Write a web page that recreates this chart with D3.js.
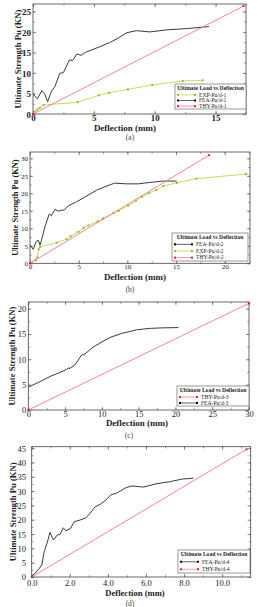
<!DOCTYPE html>
<html><head><meta charset="utf-8">
<script src="https://cdn.jsdelivr.net/npm/d3@7"></script>
<style>
html,body{margin:0;padding:0;background:#fff;}
svg{display:block;}
text{font-family:"Liberation Serif","Times New Roman",serif;}
</style></head>
<body>
<script>
// ---------- DATA ----------
// Panel (a)
const fea1 = [[0,4.9],[0.35,3.7],[0.74,5.7],[0.95,5.0],[1.2,3.0],[1.5,5.4],[1.8,6.7],[2.2,9.9],[2.5,10.1],[3.0,13.2],[3.25,13.0],[3.6,14.6],[3.96,14.3],[4.3,15.0],[4.8,15.6],[5.5,16.4],[6.3,17.4],[7.0,18.5],[7.7,19.8],[8.5,20.3],[9.6,20.0],[11.0,20.5],[12.6,20.8],[14.45,21.3]];
const exp1 = [[0,0],[0.15,0.6],[0.35,1.1],[0.55,1.5],[0.87,2.2],[3.66,2.85],[5.4,4.55],[6.25,5.2],[7.8,6.0],[9.8,7.07],[12.3,8.05],[13.95,8.2]];
const thy1 = [[0,0],[17.3,26.3]];
// Panel (b)
const fea2 = [[0,5.2],[0.34,4.0],[0.62,6.2],[0.86,6.6],[1.03,5.2],[1.16,6.4],[1.54,10.5],[1.98,14.1],[2.2,13.6],[2.57,15.4],[2.9,14.9],[3.25,15.2],[3.5,15.2],[3.93,16.4],[4.8,17.6],[5.8,19.2],[6.85,20.9],[7.9,22.1],[8.7,22.9],[9.9,22.7],[11.1,22.7],[12.3,23.1],[13.7,23.5],[15.07,23.5]];
const exp2 = [[0,0],[0.58,0.94],[0.75,1.7],[0.89,4.0],[1.03,4.7],[2.74,5.9],[3.77,6.9],[4.18,7.7],[4.97,9.0],[5.5,10.1],[6.0,10.8],[6.95,12.0],[7.5,12.8],[8.56,14.3],[9.1,15.0],[10.1,16.5],[10.9,17.9],[11.5,19.0],[12.2,20.0],[12.95,20.9],[13.7,22.1],[15.1,23.0],[17.1,24.2],[22.2,25.5]];
const thy2 = [[0,0],[18.4,30.9]];
// Panel (c)
const thy3 = [[0,0],[30,21.05]];
const fea3 = [[0,4.5],[1.6,5.6],[2.95,6.6],[4.3,7.4],[5.2,8.0],[5.4,8.3],[5.67,8.2],[6.35,8.9],[7.25,10.85],[7.7,11.05],[8.8,12.4],[9.74,13.2],[11.1,14.3],[12.7,15.1],[14.7,15.8],[16.5,16.1],[18.3,16.2],[20.4,16.25]];
// Panel (d)
const fea4 = [[0,0],[0.4,3.0],[0.53,4.2],[0.66,8.9],[0.82,12.1],[0.96,15.6],[1.14,12.9],[1.35,14.7],[1.49,14.9],[1.66,17.2],[1.8,16.1],[2.05,17.0],[2.23,19.3],[2.54,19.9],[2.86,20.7],[3.07,22.3],[3.33,24.5],[3.6,25.4],[3.9,26.9],[4.16,28.7],[4.47,29.3],[4.96,31.2],[5.26,31.8],[5.87,31.4],[6.58,32.6],[7.28,33.3],[7.9,34.2],[8.5,34.5]];
const thy4 = [[0,0],[11.28,44.6]];

const xTicks1 = [0,5,10,15], yTicks1 = [0,5,10,15,20,25];
const xTicks2 = [0,5,10,15,20], yTicks2 = [0,5,10,15,20,25,30];
const xTicks3 = [0,5,10,15,20,25,30], yTicks3 = [0,5,10,15,20];
const xTicks4 = [0,2,4,6,8,10], yTicks4 = [0,5,10,15,20,25,30,35,40,45];
const legendTitle = "Ultimate Load vs Deflection";
const yLabel = "Ultimate Strength Pu (KN)";
const xLabel = "Deflection (mm)";
const captions = ["(a)","(b)","(c)","(d)"];

// ---------- STYLE ----------
const C = {fea:"#3a3a3a", exp:"#c2d64a", expM:"#9fb52a", thy:"#f27a80", thyM:"#e0202a"};

const svg = d3.select("body").append("svg").attr("width",271).attr("height",607);

const iF = d3.format("d"), fF = d3.format(".1f");
const panels = [
 {L:33,R:246,T:4,B:114, xd:[0,17.5], yd:[0,26.8], xt:xTicks1, yt:yTicks1, xm:2.5, ym:2.5, xf:iF, yf:iF, tickFs:9, tickW:"bold", xpad:1, ypad:2,
  series:[{d:exp1,c:C.exp,m:C.expM,name:"EXP-Pu/d-1",marks:true},{d:fea1,c:C.fea,m:"#000",name:"FEA-Pu/d-1"},{d:thy1,c:C.thy,m:C.thyM,name:"THY-Pu/d-1",marks:true}],
  leg:{x:175,y:84,w:71,h:25}, xl:{x:125,y:130.5,fs:9}, yl:{x:21,fs:8.6}, cap:{x:130,y:140}},
 {L:30,R:250,T:152,B:263.3, xd:[0,22.6], yd:[0,31.8], xt:xTicks2, yt:yTicks2, xm:2.5, ym:2.5, xf:iF, yf:iF, tickFs:7, tickW:"normal", xpad:1, ypad:2,
  series:[{d:fea2,c:C.fea,m:"#000",name:"FEA-Pu/d-2"},{d:exp2,c:C.exp,m:C.expM,name:"EXP-Pu/d-2",marks:true},{d:thy2,c:C.thy,m:C.thyM,name:"THY-Pu/d-2",marks:true}],
  leg:{x:172,y:233,w:76,h:28}, xl:{x:135,y:280,fs:9}, yl:{x:18,fs:8.4}, cap:{x:130,y:292}},
 {L:28.3,R:249,T:302,B:410, xd:[0,30], yd:[0,21.3], xt:xTicks3, yt:yTicks3, xm:2.5, ym:2.5, xf:iF, yf:iF, tickFs:8.5, tickW:"normal", xpad:1, ypad:2,
  series:[{d:thy3,c:C.thy,m:C.thyM,name:"THY-Pu/d-3",marks:true},{d:fea3,c:C.fea,m:"#000",name:"FEA-Pu/d-3"}],
  leg:{x:177,y:386,w:72,h:20}, xl:{x:137,y:426,fs:9}, yl:{x:15,fs:8.6}, cap:{x:129,y:438}},
 {L:31.7,R:250.7,T:446.7,B:577, xd:[0,11.5], yd:[0,45.5], xt:xTicks4, yt:yTicks4, xm:1, ym:2.5, xf:fF, yf:iF, tickFs:8.5, tickW:"normal", xpad:3, ypad:5.8,
  series:[{d:fea4,c:C.fea,m:"#000",name:"FEA-Pu/d-4"},{d:thy4,c:C.thy,m:C.thyM,name:"THY-Pu/d-4",marks:true}],
  leg:{x:178,y:550,w:72,h:23}, xl:{x:135,y:596,fs:8.6}, yl:{x:16,fs:8.6}, cap:{x:130,y:606}}
];

function range(a,b,s){const r=[];for(let v=a;v<=b+1e-9;v+=s)r.push(+v.toFixed(6));return r;}

panels.forEach((p,i)=>{
  const x = d3.scaleLinear().domain(p.xd).range([p.L,p.R]);
  const y = d3.scaleLinear().domain(p.yd).range([p.B,p.T]);
  const g = svg.append("g");
  const xMinor = range(p.xd[0],p.xd[1],p.xm), yMinor = range(p.yd[0],p.yd[1],p.ym);
  const H = p.B-p.T, W = p.R-p.L;
  const ax = (axis, tr) => {
    const a = g.append("g").attr("transform",tr).call(axis);
    a.select(".domain").remove();
    a.selectAll("line").attr("stroke","#555").attr("stroke-width",0.6);
    return a;
  };
  ax(d3.axisBottom(x).tickValues(xMinor).tickSize(-1.8).tickFormat(""),`translate(0,${p.B})`);
  ax(d3.axisTop(x).tickValues(xMinor).tickSize(-1.8).tickFormat(""),`translate(0,${p.T})`);
  ax(d3.axisLeft(y).tickValues(yMinor).tickSize(-1.8).tickFormat(""),`translate(${p.L},0)`);
  ax(d3.axisRight(y).tickValues(yMinor).tickSize(-1.8).tickFormat(""),`translate(${p.R},0)`);
  const bx = ax(d3.axisBottom(x).tickValues(p.xt).tickSize(-3.2).tickPadding(p.xpad).tickFormat(p.xf),`translate(0,${p.B})`);
  const ly = ax(d3.axisLeft(y).tickValues(p.yt).tickSize(-3.2).tickPadding(p.ypad).tickFormat(p.yf),`translate(${p.L},0)`);
  ax(d3.axisTop(x).tickValues(p.xt).tickSize(-3.2).tickFormat(""),`translate(0,${p.T})`);
  ax(d3.axisRight(y).tickValues(p.yt).tickSize(-3.2).tickFormat(""),`translate(${p.R},0)`);
  [bx,ly].forEach(a=>a.selectAll("text").attr("font-family","Liberation Serif").attr("font-size",p.tickFs).attr("font-weight",p.tickW).attr("fill","#222"));
  ly.selectAll("text").attr("dy","0.35em");
  g.append("rect").attr("x",p.L).attr("y",p.T).attr("width",W).attr("height",H).attr("fill","none").attr("stroke","#444").attr("stroke-width",0.8);
  const line = d3.line().x(d=>x(d[0])).y(d=>y(d[1]));
  p.series.forEach(s=>{
    g.append("path").datum(s.d).attr("d",line).attr("fill","none").attr("stroke",s.c).attr("stroke-width",s.c===C.fea?1.0:0.9);
    if(s.marks){
      g.selectAll(null).data(s.d).enter().append("rect")
        .attr("x",d=>x(d[0])-1).attr("y",d=>y(d[1])-1).attr("width",2).attr("height",2).attr("fill",s.m);
    }
  });
  const lg = g.append("g");
  lg.append("rect").attr("x",p.leg.x).attr("y",p.leg.y).attr("width",p.leg.w).attr("height",p.leg.h).attr("fill","#fff").attr("stroke","#555").attr("stroke-width",0.6);
  lg.append("text").attr("x",p.leg.x+p.leg.w/2).attr("y",p.leg.y+5.5).attr("text-anchor","middle").attr("font-size",5.6).attr("font-weight","bold").attr("fill","#222").text(legendTitle);
  const n = p.series.length;
  const step = (p.leg.h-8)/n;
  p.series.forEach((s,k)=>{
    const yy = p.leg.y+8+step*(k+0.5);
    const x0 = p.leg.x+3, x1 = p.leg.x+20;
    lg.append("line").attr("x1",x0).attr("x2",x1).attr("y1",yy).attr("y2",yy).attr("stroke",s.c).attr("stroke-width",0.8);
    [x0,x1].forEach(xx=>lg.append("rect").attr("x",xx-1).attr("y",yy-1).attr("width",2).attr("height",2).attr("fill",s.m));
    lg.append("text").attr("x",p.leg.x+24).attr("y",yy+1.8).attr("font-size",5.6).attr("fill","#222").text(s.name);
  });
  g.append("text").attr("x",p.xl.x).attr("y",p.xl.y).attr("text-anchor","middle").attr("font-size",p.xl.fs).attr("font-weight","bold").attr("fill","#222").text(xLabel);
  g.append("text").attr("transform",`translate(${p.yl.x},${(p.T+p.B)/2}) rotate(-90)`).attr("text-anchor","middle").attr("font-size",p.yl.fs).attr("font-weight","bold").attr("fill","#222").text(yLabel);
  g.append("text").attr("x",p.cap.x).attr("y",p.cap.y).attr("text-anchor","middle").attr("font-size",7.5).attr("fill","#444").text(captions[i]);
});
</script>
</body></html>
